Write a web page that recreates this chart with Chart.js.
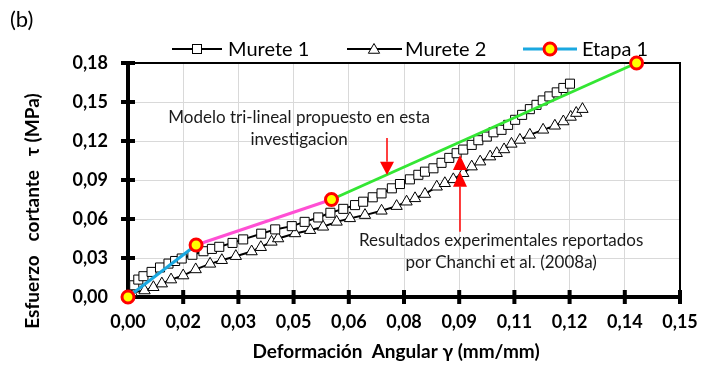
<!DOCTYPE html>
<html>
<head>
<meta charset="utf-8">
<script src="https://cdn.jsdelivr.net/npm/chart.js@4"></script>
<style>
  html, body { margin: 0; padding: 0; background: #fff; }
  #wrap { width: 715px; height: 367px; }
</style>
</head>
<body>
<div id="wrap"><canvas id="chart" width="715" height="367"></canvas></div>
<script>
// data
const murete1X = [0, 0.0017, 0.0028, 0.0042, 0.0064, 0.0087, 0.011, 0.0128, 0.0146, 0.0175,
  0.0205, 0.0228, 0.0248, 0.0284, 0.0313, 0.0362, 0.040, 0.0445, 0.048, 0.0517,
  0.055, 0.0585, 0.0617, 0.0639, 0.0665, 0.0689, 0.0717, 0.0739, 0.0766, 0.0789,
  0.0807, 0.083, 0.0852, 0.0873, 0.0893, 0.0911, 0.0934, 0.0952, 0.0975, 0.0993,
  0.1015, 0.1033, 0.1052, 0.1071, 0.1092, 0.111, 0.1127, 0.1145, 0.1165, 0.1183, 0.1201]
const murete1Y = [0, 0.009, 0.0134, 0.016, 0.0193, 0.0227, 0.0257, 0.0277, 0.0296, 0.0325,
  0.0352, 0.037, 0.0386, 0.0416, 0.0443, 0.0487, 0.052, 0.0545, 0.0578, 0.0612,
  0.0648, 0.0678, 0.0707, 0.0733, 0.0767, 0.0797, 0.0836, 0.0869, 0.0905, 0.094,
  0.0964, 0.099, 0.1032, 0.107, 0.1106, 0.1134, 0.117, 0.1206, 0.1234, 0.1267,
  0.1286, 0.1324, 0.1363, 0.1401, 0.1445, 0.1478, 0.1512, 0.1543, 0.1574, 0.1608, 0.1641]

const murete2X = [0, 0.001, 0.0045, 0.0069, 0.0092, 0.0117, 0.015, 0.0184, 0.0223, 0.0255,
  0.0293, 0.0336, 0.0361, 0.039, 0.0408, 0.0454, 0.0495, 0.053, 0.0567, 0.0603,
  0.0644, 0.0689, 0.073, 0.0757, 0.078, 0.0807, 0.0839, 0.0861, 0.0884, 0.0911,
  0.0934, 0.0957, 0.0984, 0.1002, 0.1022, 0.1042, 0.1065, 0.1092, 0.1128, 0.116,
  0.1183, 0.1203, 0.1218, 0.1235]
const murete2Y = [0, 0.0035, 0.005, 0.0075, 0.0103, 0.0134, 0.0165, 0.0212, 0.0255, 0.0283,
  0.0314, 0.035, 0.0383, 0.0424, 0.045, 0.0489, 0.0514, 0.054, 0.0578, 0.0605,
  0.063, 0.0663, 0.0699, 0.0733, 0.0759, 0.0792, 0.0848, 0.0875, 0.0905, 0.0952,
  0.1003, 0.1041, 0.108, 0.1106, 0.1135, 0.1178, 0.1208, 0.1247, 0.1286, 0.1317,
  0.135, 0.1385, 0.1415, 0.1445]

const etapaX = [0, 0.0185, 0.0553, 0.1382]
const etapaY = [0, 0.04, 0.075, 0.18]
const etapaColors = ['#1aa8e0', '#ff4fd4', '#33e633']

const xTickLabels = ['0,00', '0,02', '0,03', '0,05', '0,06', '0,08', '0,09', '0,11', '0,12', '0,14', '0,15']
const yTickLabels = ['0,00', '0,03', '0,06', '0,09', '0,12', '0,15', '0,18']

const toPoints = (xs, ys) => xs.map((x, i) => ({ x: x, y: ys[i] }))

const FONT = 'Lato, "Open Sans", sans-serif'

const drawTri = (ctx, x, y, r) => {
  ctx.beginPath()
  ctx.moveTo(x, y - r)
  ctx.lineTo(x + r * 0.866, y + r * 0.5)
  ctx.lineTo(x - r * 0.866, y + r * 0.5)
  ctx.closePath()
  ctx.fill()
  ctx.stroke()
}

const arrowHead = (ctx, x, tipY, baseY, w) => {
  ctx.beginPath()
  ctx.moveTo(x, tipY)
  ctx.lineTo(x + w / 2, baseY)
  ctx.lineTo(x - w / 2, baseY)
  ctx.closePath()
  ctx.fill()
}

const decor = {
  id: 'decor',
  beforeDatasetsDraw(chart) {
    const ctx = chart.ctx
    const a = chart.chartArea
    const xs = chart.scales.x, ys = chart.scales.y
    ctx.save()
    // top / right frame
    ctx.strokeStyle = '#000'
    ctx.lineWidth = 2
    ctx.beginPath()
    ctx.moveTo(a.left, a.top)
    ctx.lineTo(a.right, a.top)
    ctx.lineTo(a.right, a.bottom)
    ctx.stroke()
    // crossing tick marks
    ctx.lineWidth = 4
    ctx.beginPath()
    xs.ticks.forEach(t => {
      const px = xs.getPixelForValue(t.value)
      ctx.moveTo(px, a.bottom - 7)
      ctx.lineTo(px, a.bottom + 7)
    })
    ys.ticks.forEach(t => {
      const py = ys.getPixelForValue(t.value)
      ctx.moveTo(a.left - 7, py)
      ctx.lineTo(a.left + 7, py)
    })
    ctx.stroke()
    ctx.restore()
  },
  afterDatasetsDraw(chart) {
    const ctx = chart.ctx
    const xs = chart.scales.x, ys = chart.scales.y
    const X = v => xs.getPixelForValue(v)
    const Y = v => ys.getPixelForValue(v)
    ctx.save()

    // panel label
    ctx.fillStyle = '#000'
    ctx.font = '22px ' + FONT
    ctx.textBaseline = 'middle'
    ctx.textAlign = 'left'
    ctx.fillText('(b)', 10, 20)

    // legend
    const ly = 49
    ctx.font = '20px ' + FONT
    ctx.strokeStyle = '#000'
    ctx.lineWidth = 2
    ctx.beginPath(); ctx.moveTo(172, ly); ctx.lineTo(222, ly); ctx.stroke()
    ctx.fillStyle = '#fff'; ctx.lineWidth = 1
    ctx.fillRect(192.5, ly - 4.5, 9, 9); ctx.strokeRect(192.5, ly - 4.5, 9, 9)
    ctx.fillStyle = '#000'
    ctx.fillText('Murete 1', 228, ly + 1)

    ctx.lineWidth = 2
    ctx.beginPath(); ctx.moveTo(347, ly); ctx.lineTo(402, ly); ctx.stroke()
    ctx.fillStyle = '#fff'; ctx.lineWidth = 1
    drawTri(ctx, 374, ly + 1, 6.5)
    ctx.fillStyle = '#000'
    ctx.fillText('Murete 2', 405, ly + 1)

    ctx.strokeStyle = etapaColors[0]; ctx.lineWidth = 3
    ctx.beginPath(); ctx.moveTo(523, ly); ctx.lineTo(577, ly); ctx.stroke()
    ctx.beginPath(); ctx.arc(550, ly, 6, 0, Math.PI * 2)
    ctx.fillStyle = '#ffff00'; ctx.fill()
    ctx.strokeStyle = '#ff0000'; ctx.lineWidth = 3; ctx.stroke()
    ctx.fillStyle = '#000'
    ctx.fillText('Etapa 1', 582, ly + 1)

    // axis titles
    ctx.font = 'bold 19px ' + FONT
    ctx.textAlign = 'center'
    ctx.fillText('Deformación  Angular γ (mm/mm)', 396, 352)
    ctx.save()
    ctx.translate(33, 211)
    ctx.rotate(-Math.PI / 2)
    ctx.fillText('Esfuerzo   cortante   τ (MPa)', 0, 0)
    ctx.restore()

    // annotations
    ctx.font = '17px ' + FONT
    ctx.fillStyle = '#1a1a1a'
    ctx.fillText('Modelo tri-lineal propuesto en esta', X(0.0465), Y(0.1378))
    ctx.fillText('investigacion', X(0.0465), Y(0.1208))
    ctx.fillText('Resultados experimentales reportados', X(0.1014), Y(0.0437))
    ctx.fillText('por Chanchi et al. (2008a)', X(0.1014), Y(0.0268))

    ctx.strokeStyle = '#ff0000'
    ctx.fillStyle = '#ff0000'
    ctx.lineWidth = 1.5
    const x1 = Math.round(X(0.0703))
    ctx.beginPath(); ctx.moveTo(x1, Y(0.1224)); ctx.lineTo(x1, Y(0.104)); ctx.stroke()
    arrowHead(ctx, x1, Y(0.0939), Y(0.104), 14)
    const x2 = Math.round(X(0.0902))
    ctx.beginPath(); ctx.moveTo(x2, Y(0.0501)); ctx.lineTo(x2, Y(0.085)); ctx.stroke()
    arrowHead(ctx, x2, Y(0.0964), Y(0.0848), 14)
    arrowHead(ctx, x2, Y(0.1093), Y(0.0977), 14)
    ctx.restore()
  }
}

const ctx = document.getElementById('chart').getContext('2d')
new Chart(ctx, {
  type: 'scatter',
  data: {
    datasets: [
      {
        label: 'Etapa 1',
        data: toPoints(etapaX, etapaY),
        showLine: true,
        clip: false,
        borderWidth: 3,
        borderColor: etapaColors[0],
        segment: { borderColor: c => etapaColors[c.p0DataIndex] },
        pointStyle: 'circle',
        pointRadius: 6,
        pointBorderWidth: 3,
        pointBorderColor: '#ff0000',
        pointBackgroundColor: '#ffff00',
        order: 0
      },
      {
        label: 'Murete 1',
        data: toPoints(murete1X, murete1Y),
        showLine: true,
        clip: false,
        borderColor: '#000',
        borderWidth: 2,
        pointStyle: 'rect',
        pointRadius: 6.4,
        pointBorderWidth: 1,
        pointBorderColor: '#000',
        pointBackgroundColor: '#fff',
        order: 1
      },
      {
        label: 'Murete 2',
        data: toPoints(murete2X, murete2Y),
        showLine: true,
        clip: false,
        borderColor: '#000',
        borderWidth: 2,
        pointStyle: 'triangle',
        pointRadius: 6.5,
        pointBorderWidth: 1,
        pointBorderColor: '#000',
        pointBackgroundColor: '#fff',
        order: 2
      }
    ]
  },
  options: {
    responsive: false,
    animation: false,
    layout: { padding: { top: 63, left: 0, right: 35, bottom: 0 } },
    plugins: {
      legend: { display: false },
      tooltip: { enabled: false }
    },
    scales: {
      x: {
        type: 'linear',
        min: 0,
        max: 0.15,
        afterFit: s => { s.height = 70 },
        border: { display: true, color: '#000', width: 4 },
        grid: { color: '#d9d9d9', lineWidth: 1, drawTicks: false },
        ticks: {
          stepSize: 0.015,
          padding: 14,
          color: '#000',
          font: { family: FONT, size: 18, weight: 'bold' },
          maxRotation: 0,
          autoSkip: false,
          callback: (v, i) => xTickLabels[i]
        }
      },
      y: {
        type: 'linear',
        min: 0,
        max: 0.18,
        afterFit: s => { s.width = 128 },
        border: { display: true, color: '#000', width: 4 },
        grid: { color: '#d9d9d9', lineWidth: 1, drawTicks: false },
        ticks: {
          stepSize: 0.03,
          padding: 20,
          color: '#000',
          font: { family: FONT, size: 18, weight: 'bold' },
          autoSkip: false,
          callback: (v, i) => yTickLabels[i]
        }
      }
    }
  },
  plugins: [decor]
})
</script>
</body>
</html>
